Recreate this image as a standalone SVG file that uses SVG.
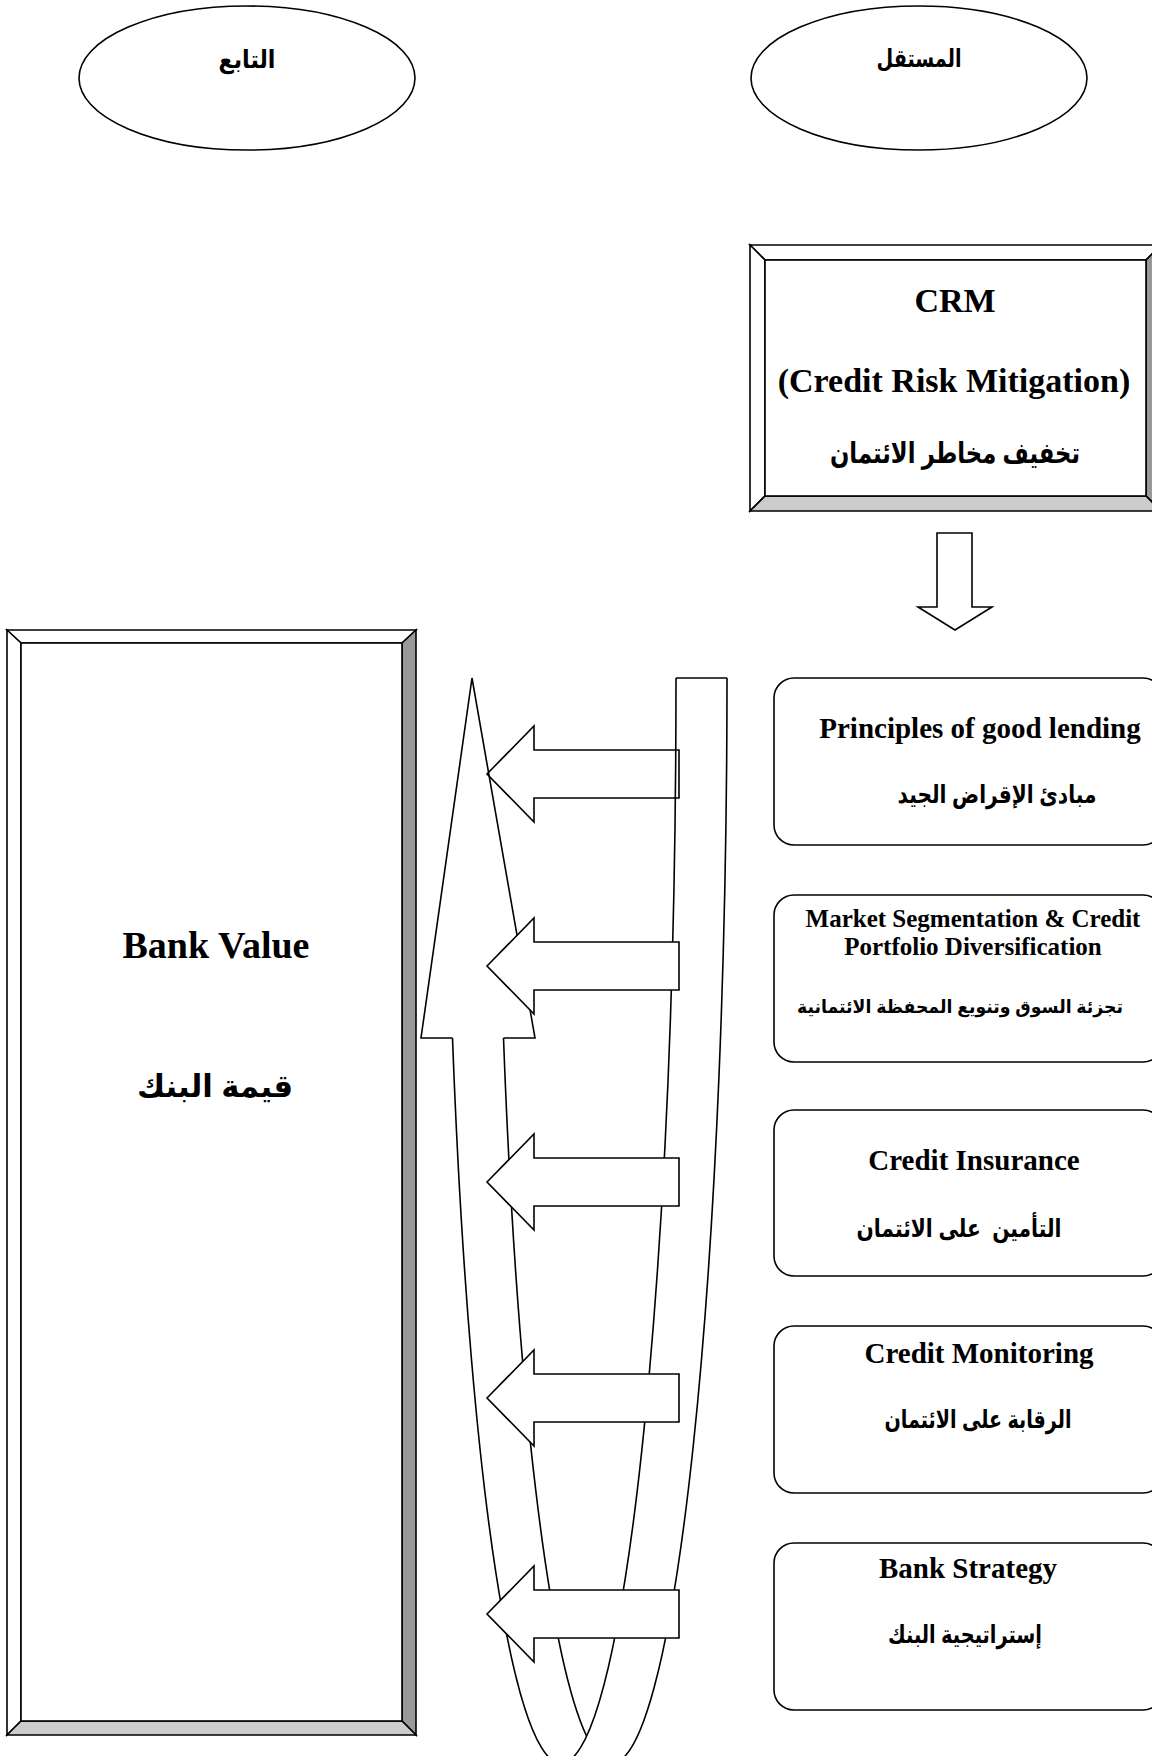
<svg xmlns="http://www.w3.org/2000/svg" width="1152" height="1756" viewBox="0 0 1152 1756">
<style>
.ln{stroke:#000;stroke-width:1.6;fill:none;stroke-linejoin:miter}
.wf{stroke:#000;stroke-width:1.6;fill:#fff;stroke-linejoin:miter}
.bv{stroke:#000;stroke-width:1.6;stroke-linejoin:miter}
.en{font-family:"Liberation Serif","Times New Roman",serif;font-weight:bold;fill:#000;text-anchor:middle}
.ar{font-family:"Liberation Sans","DejaVu Sans",sans-serif;font-weight:bold;fill:#000;text-anchor:middle}
</style>
<rect width="1152" height="1756" fill="#fff"/>

<g id="dependent">
  <ellipse class="wf" cx="247" cy="78" rx="168" ry="72"/>
  <text class="ar" x="247" y="68" font-size="25" textLength="57" lengthAdjust="spacingAndGlyphs">التابع</text>
</g>
<g id="independent">
  <ellipse class="wf" cx="919" cy="78" rx="168" ry="72"/>
  <text class="ar" x="919" y="67" font-size="25" textLength="85" lengthAdjust="spacingAndGlyphs">المستقل</text>
</g>

<g id="crm">
  <polygon class="bv" fill="#fff" points="750,245 1161,245 1146,260 765,260"/>
  <polygon class="bv" fill="#fff" points="750,245 765,260 765,496 750,511"/>
  <polygon class="bv" fill="#999" points="1161,245 1161,511 1146,496 1146,260"/>
  <polygon class="bv" fill="#ccc" points="750,511 765,496 1146,496 1161,511"/>
  <rect class="wf" x="765" y="260" width="381" height="236"/>
  <text class="en" x="955" y="312" font-size="34">CRM</text>
  <text class="en" x="954" y="392" font-size="34">(Credit Risk Mitigation)</text>
  <text class="ar" x="955" y="463" font-size="29" textLength="250" lengthAdjust="spacingAndGlyphs">تخفيف مخاطر الائتمان</text>
</g>

<g id="bank-value">
  <polygon class="bv" fill="#fff" points="7,630 416,630 402,643 21,643"/>
  <polygon class="bv" fill="#fff" points="7,630 21,643 21,1721 7,1735"/>
  <polygon class="bv" fill="#999" points="416,630 416,1735 402,1721 402,643"/>
  <polygon class="bv" fill="#ccc" points="7,1735 21,1721 402,1721 416,1735"/>
  <rect class="wf" x="21" y="643" width="381" height="1078"/>
  <text class="en" x="216" y="958" font-size="38">Bank Value</text>
  <text class="ar" x="215" y="1097" font-size="31" textLength="156" lengthAdjust="spacingAndGlyphs">قيمة البنك</text>
</g>

<g id="box-lending">
  <rect class="wf" x="774" y="678" width="389" height="167" rx="20"/>
  <text class="en" x="980" y="738" font-size="29">Principles of good lending</text>
  <text class="ar" x="997" y="803" font-size="25" textLength="199" lengthAdjust="spacingAndGlyphs">مبادئ الإقراض الجيد</text>
</g>
<g id="box-segmentation">
  <rect class="wf" x="774" y="895" width="389" height="167" rx="20"/>
  <text class="en" x="973" y="927" font-size="25">Market Segmentation &amp; Credit</text>
  <text class="en" x="973" y="955" font-size="25">Portfolio Diversification</text>
  <text class="ar" x="960" y="1013" font-size="18" textLength="326" lengthAdjust="spacingAndGlyphs">تجزئة السوق وتنويع المحفظة الائتمانية</text>
</g>
<g id="box-insurance">
  <rect class="wf" x="774" y="1110" width="389" height="166" rx="20"/>
  <text class="en" x="974" y="1170" font-size="29">Credit Insurance</text>
  <text class="ar" x="959" y="1237" font-size="25" textLength="205" lengthAdjust="spacingAndGlyphs" style="white-space:pre">التأمين  على الائتمان</text>
</g>
<g id="box-monitoring">
  <rect class="wf" x="774" y="1326" width="389" height="167" rx="20"/>
  <text class="en" x="979" y="1363" font-size="29">Credit Monitoring</text>
  <text class="ar" x="978" y="1428" font-size="25" textLength="187" lengthAdjust="spacingAndGlyphs">الرقابة على الائتمان</text>
</g>
<g id="box-strategy">
  <rect class="wf" x="774" y="1543" width="389" height="167" rx="20"/>
  <text class="en" x="968" y="1578" font-size="29">Bank Strategy</text>
  <text class="ar" x="965" y="1643" font-size="25" textLength="154" lengthAdjust="spacingAndGlyphs">إستراتيجية البنك</text>
</g>

<g id="connectors">
  <path class="wf" d="M937,533 L972,533 L972,607 L992,607 L955,630 L918,607 L937,607 Z"/>
  <path class="wf" d="M487,774 L534,726 L534,750 L679,750 L679,798 L534,798 L534,822 Z"/>
  <g id="uturn-arrow">
    <path class="ln" d="M452.5,1038 A115,1085 0 0 0 676,678"/>
    <path class="ln" d="M503.5,1038 A115,1085 0 0 0 586.5,1736"/>
    <path class="ln" d="M727,678 A115,1085 0 0 1 612,1763"/>
    <path class="ln" d="M676,678 L727,678"/>
    <path class="ln" d="M452.5,1038 L421,1038 L472,678 L535,1038 L503.5,1038"/>
  </g>
  <path class="wf" d="M487,966 L534,918 L534,942 L679,942 L679,990 L534,990 L534,1014 Z"/>
  <path class="wf" d="M487,1182 L534,1134 L534,1158 L679,1158 L679,1206 L534,1206 L534,1230 Z"/>
  <path class="wf" d="M487,1398 L534,1350 L534,1374 L679,1374 L679,1422 L534,1422 L534,1446 Z"/>
  <path class="wf" d="M487,1614 L534,1566 L534,1590 L679,1590 L679,1638 L534,1638 L534,1662 Z"/>
</g>
</svg>
